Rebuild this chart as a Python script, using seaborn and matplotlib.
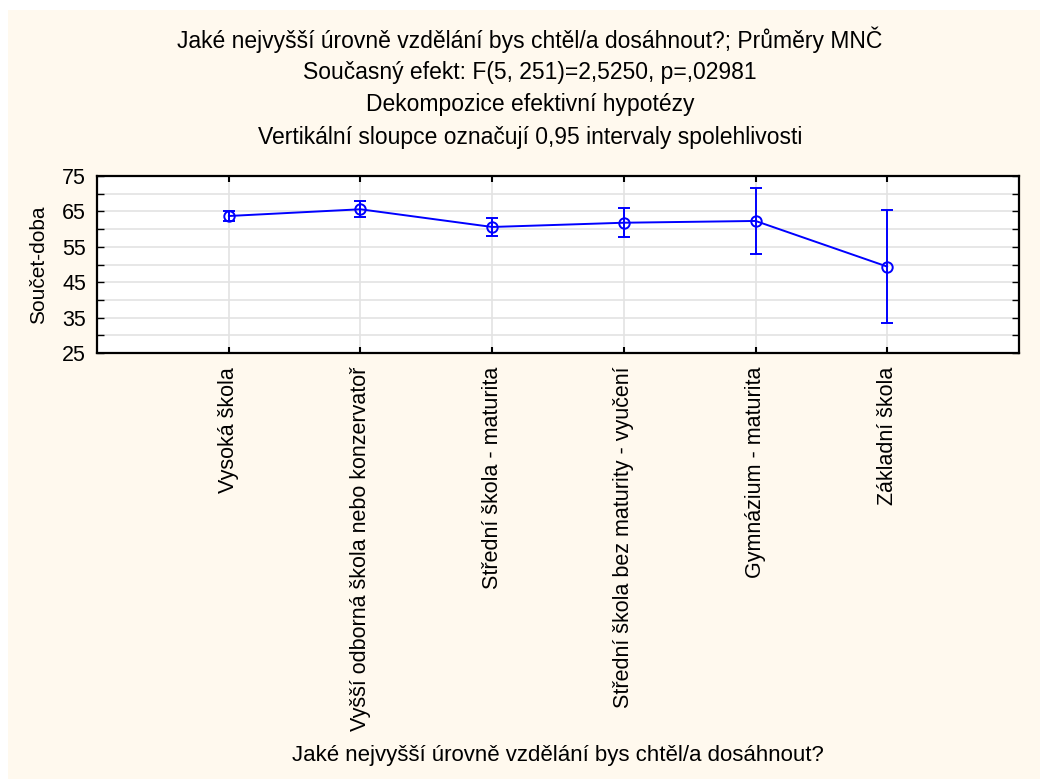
import numpy as np
import pandas as pd
import matplotlib
matplotlib.use("Agg")
import matplotlib.pyplot as plt
import seaborn as sns

categories = [
    "Vysoká škola",
    "Vyšší odborná škola nebo konzervatoř",
    "Střední škola - maturita",
    "Střední škola bez maturity - vyučení",
    "Gymnázium - maturita",
    "Základní škola",
]
means = [63.7, 65.6, 60.6, 61.8, 62.3, 49.4]
ci_half = [1.35, 2.3, 2.55, 4.15, 9.2, 15.9]
y_ticks = [25, 35, 45, 55, 65, 75]

title_lines = [
    "Jaké nejvyšší úrovně vzdělání bys chtěl/a dosáhnout?; Průměry MNČ",
    "Současný efekt: F(5, 251)=2,5250, p=,02981",
    "Dekompozice efektivní hypotézy",
    "Vertikální sloupce označují 0,95 intervaly spolehlivosti",
]
x_label = "Jaké nejvyšší úrovně vzdělání bys chtěl/a dosáhnout?"
y_label = "Součet-doba"

sns.set_theme(style="white")
plt.rcParams["font.family"] = ["Liberation Sans", "DejaVu Sans"]
plt.rcParams["text.color"] = "black"
plt.rcParams["axes.labelcolor"] = "black"
plt.rcParams["xtick.color"] = "black"
plt.rcParams["ytick.color"] = "black"

bg = "#FFF9EE"
line_col = "#0000FF"

fig = plt.figure(figsize=(10.4, 7.79), dpi=100, facecolor="white")
# cream panel behind everything, leaving a thin white margin top-left
fig.patches.append(plt.Rectangle((8 / 1040, 0), 1 - 8 / 1040, 1 - 10 / 779,
                                 transform=fig.transFigure, facecolor=bg,
                                 edgecolor="none", zorder=-10))
ax = fig.add_axes([97 / 1040, 1 - 353 / 779, (1019 - 97) / 1040, (353 - 176) / 779])
ax.set_facecolor("white")

df = pd.DataFrame({"kategorie": categories, "prumer": means, "ci": ci_half})

sns.lineplot(data=df, x="kategorie", y="prumer", ax=ax, color=line_col,
             linewidth=1.4, sort=False, zorder=3)
xpos = np.arange(len(categories))
ax.errorbar(xpos, df["prumer"], yerr=df["ci"], fmt="o", color=line_col,
            mfc="none", mec=line_col, ms=7.5, mew=1.4, elinewidth=1.4,
            capsize=4.5, capthick=1.4, zorder=4)

ax.set_xlim(-1, len(categories))
ax.set_ylim(25, 75)
ax.set_xticks(xpos)
ax.set_xticklabels(categories, rotation=90, fontsize=15.5, va="top")
ax.set_yticks(y_ticks)
ax.set_yticks(np.array(y_ticks[:-1]) + 5, minor=True)
ax.tick_params(axis="y", which="major", labelsize=15.5, direction="in",
               length=5, width=1, left=True, right=True, pad=8)
ax.tick_params(axis="y", which="minor", direction="in", length=5, width=1,
               left=True, right=True)
ax.tick_params(axis="x", direction="in", length=4, width=1.5, bottom=True,
               top=True, pad=10)
ax.grid(True, which="both", axis="y", color="#E3E3E3", linewidth=1.2)
ax.grid(True, which="major", axis="x", color="#E3E3E3", linewidth=1.2)
ax.set_axisbelow(True)
for s in ax.spines.values():
    s.set_color("black")
    s.set_linewidth(1.6)

ax.set_xlabel("")
ax.set_ylabel(y_label, fontsize=15, labelpad=10)
fig.text(558 / 1040, 1 - 756 / 779, x_label, ha="center", va="center",
         fontsize=16)

for i, line in enumerate(title_lines):
    fig.text(530 / 1040, 1 - (40 + 32.5 * i) / 779, line, ha="center",
             va="center", fontsize=16.5)

fig.savefig("out.png", dpi=100, facecolor=fig.get_facecolor())
